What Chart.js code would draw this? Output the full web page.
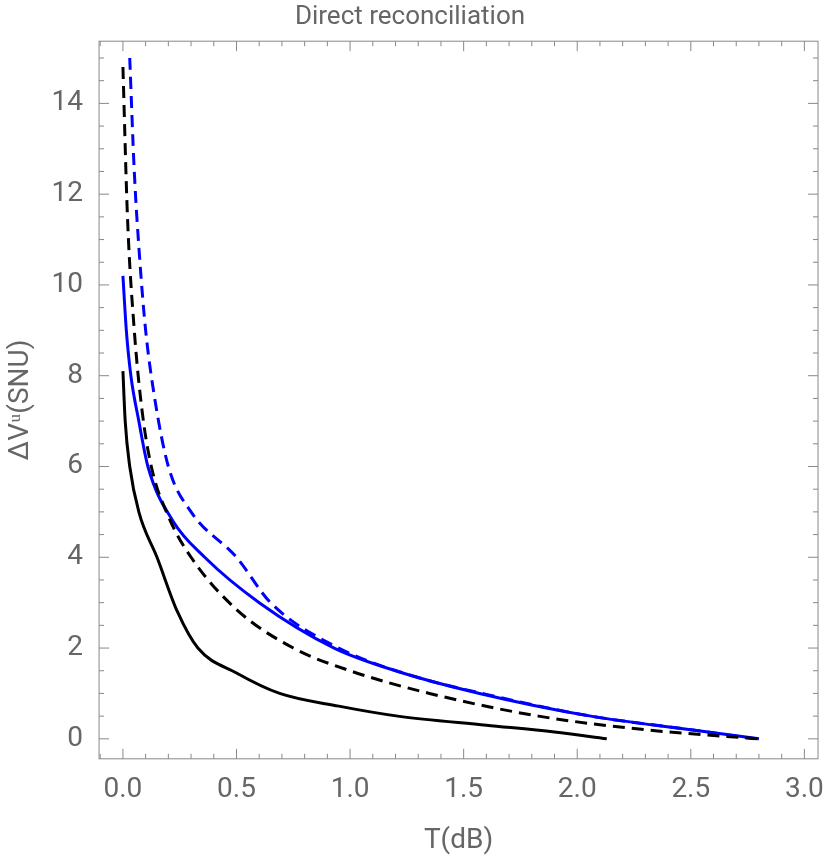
<!DOCTYPE html><html><head><script src="https://cdn.jsdelivr.net/npm/chart.js@4"></script>
<style>body{margin:0;background:#fff}#w{width:830px;height:866px}</style></head><body><div id="w"><canvas id="c"></canvas></div>
<script>
const xTicks=[0,0.5,1,1.5,2,2.5,3];
const yTicks=[0,2,4,6,8,10,12,14];
const blackSolidX=[0,0.01,0.03,0.07,0.15,0.24,0.33,0.5,0.69,0.95,1.21,1.6,1.9,2.13];
const blackSolidY=[8.1,7.0,6.0,5.0,4.0,2.8,2.0,1.45,1.0,0.72,0.5,0.3,0.15,0];
const blackDashX=[0,0.02,0.05,0.085,0.125,0.2,0.3,0.5,0.75,1.0,1.35,1.83,2.3,2.8];
const blackDashY=[14.8,11.5,9.0,7.2,6.0,4.9,4.0,2.85,2.0,1.5,1.0,0.5,0.2,0];
const blueSolidX=[0,0.015,0.035,0.07,0.11,0.22,0.36,0.6,0.93,1.2,1.57,2.06,2.5,2.8];
const blueSolidY=[10.2,9.0,8.0,7.0,6.0,4.8,4.0,3.0,2.0,1.5,1.0,0.5,0.2,0];
const blueDashX=[0.03,0.05,0.075,0.1,0.14,0.2,0.3,0.5,0.65,0.95,1.3,1.6,2.06,2.5,2.78];
const blueDashY=[15.0,12.5,10.5,9.0,7.5,6.0,5.0,4.0,3.0,2.0,1.35,0.98,0.5,0.2,0];
const pts=(xs,ys)=>xs.map((x,i)=>({x,y:ys[i]}));
const grey='#666';
const frame={id:'frame',afterDraw(ch){const c=ch.ctx,a=ch.chartArea,xs=ch.scales.x,ys=ch.scales.y;
c.save();c.strokeStyle='#888';c.lineWidth=1;c.strokeRect(a.left,a.top,a.width,a.height);
c.beginPath();
for(let k=-1;k<=30;k++){const v=k/10;const p=xs.getPixelForValue(v);if(p<a.left||p>a.right)continue;const L=(k%5===0)?10:5;
c.moveTo(p,a.bottom);c.lineTo(p,a.bottom-L);c.moveTo(p,a.top);c.lineTo(p,a.top+L);}
for(let k=0;k<=30;k++){const v=k/2;const p=ys.getPixelForValue(v);const L=(k%4===0)?10:5;
c.moveTo(a.left,p);c.lineTo(a.left+L,p);c.moveTo(a.right,p);c.lineTo(a.right-L,p);}
c.stroke();c.restore();}};
new Chart(document.getElementById('c'),{type:'scatter',
data:{datasets:[
{data:pts(blackSolidX,blackSolidY),borderColor:'#000',borderWidth:3,showLine:true,pointRadius:0,cubicInterpolationMode:'monotone'},
{data:pts(blackDashX,blackDashY),borderColor:'#000',borderWidth:3,borderDash:[12,7],showLine:true,pointRadius:0,cubicInterpolationMode:'monotone'},
{data:pts(blueSolidX,blueSolidY),borderColor:'#0000ff',borderWidth:3,showLine:true,pointRadius:0,cubicInterpolationMode:'monotone'},
{data:pts(blueDashX,blueDashY),borderColor:'#0000ff',borderWidth:3,borderDash:[12,7],showLine:true,pointRadius:0,cubicInterpolationMode:'monotone'}]},
options:{responsive:true,maintainAspectRatio:false,animation:false,
layout:{padding:{left:0,right:10,top:0,bottom:4}},
plugins:{legend:{display:false},tooltip:{enabled:false},
title:{display:true,text:'Direct reconciliation',color:grey,font:{size:26,family:'Roboto',weight:'normal'},padding:{top:2,bottom:8}}},
scales:{
x:{type:'linear',min:-0.105,max:3.06,afterBuildTicks:s=>{s.ticks=xTicks.map(v=>({value:v}))},
grid:{display:false},border:{display:false},
ticks:{color:grey,font:{size:28,family:'Roboto'},padding:6,callback:v=>v.toFixed(1)},
title:{display:true,text:'T(dB)',color:grey,font:{size:28,family:'Roboto'},padding:{top:12}}},
y:{type:'linear',min:-0.44,max:15.37,afterBuildTicks:s=>{s.ticks=yTicks.map(v=>({value:v}))},
grid:{display:false},border:{display:false},
ticks:{color:grey,font:{size:28,family:'Roboto'},padding:8},
title:{display:true,text:'ΔVᵘ(SNU)',color:grey,font:{size:28,family:'Roboto'},padding:{bottom:6}}}}},
plugins:[frame]});
</script></body></html>
